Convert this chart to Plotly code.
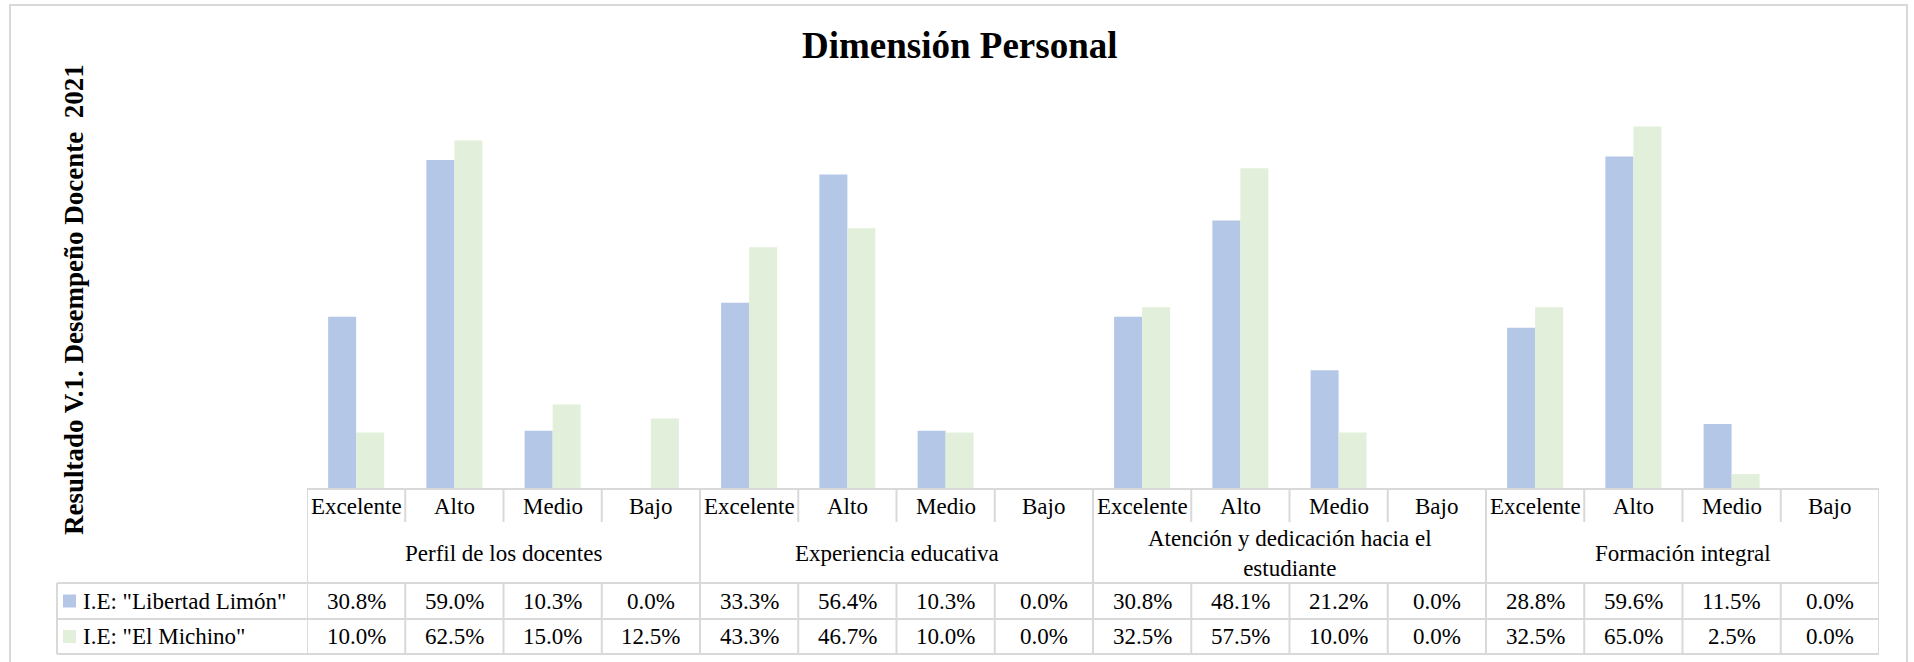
import plotly.graph_objects as go

# ---------------- data ----------------
categories = ["Excelente", "Alto", "Medio", "Bajo"]
groups = ["Perfil de los docentes", "Experiencia educativa",
          "Atención y dedicación hacia el<br>estudiante", "Formación integral"]
series_names = ['I.E: "Libertad Limón"', 'I.E: "El Michino"']
libertad = [30.8, 59.0, 10.3, 0.0, 33.3, 56.4, 10.3, 0.0,
            30.8, 48.1, 21.2, 0.0, 28.8, 59.6, 11.5, 0.0]
michino = [10.0, 62.5, 15.0, 12.5, 43.3, 46.7, 10.0, 0.0,
           32.5, 57.5, 10.0, 0.0, 32.5, 65.0, 2.5, 0.0]
title_text = "Dimensión Personal"
ytitle_text = "Resultado V.1. Desempeño Docente\u00a0\u00a02021"

# ---------------- layout helpers (pixels -> paper) ----------------
W, H = 1914, 662
def px(x):
    return x / W
def py(y):
    return 1 - y / H

colors = ["#B4C7E7", "#E2EFDA"]
grid = "#D9D9D9"
font_family = "Liberation Serif"
n_cols = len(groups) * len(categories)
xs = list(range(n_cols))

TABLE_L, TABLE_R = 307, 1879
LEGEND_L = 57
Y_TOP_CAT, Y_CAT_END, Y_R1, Y_R2, Y_BOT = 489, 522, 583, 619, 654

fig = go.Figure()
for name, vals, col in zip(series_names, [libertad, michino], colors):
    fig.add_trace(go.Bar(x=xs, y=vals, name=name, marker=dict(color=col, line=dict(width=0)),
                         hoverinfo="y+name"))

shapes = []
# outer frame
shapes.append(dict(type="rect", xref="paper", yref="paper", x0=px(10), x1=px(1907),
                   y0=py(700), y1=py(5), line=dict(color=grid, width=2), layer="below"))
# top of table (axis line)
shapes.append(dict(type="line", xref="paper", yref="paper", x0=px(TABLE_L), x1=px(TABLE_R),
                   y0=py(Y_TOP_CAT), y1=py(Y_TOP_CAT), line=dict(color=grid, width=2)))
# series rows horizontal lines
for yy in [Y_R1, Y_R2, Y_BOT]:
    shapes.append(dict(type="line", xref="paper", yref="paper", x0=px(LEGEND_L), x1=px(TABLE_R),
                       y0=py(yy), y1=py(yy), line=dict(color=grid, width=2)))
# legend column left line
shapes.append(dict(type="line", xref="paper", yref="paper", x0=px(LEGEND_L), x1=px(LEGEND_L),
                   y0=py(Y_R1), y1=py(Y_BOT), line=dict(color=grid, width=2)))
# vertical column lines
for i in range(n_cols + 1):
    xb = i - 0.5
    if i % len(categories) == 0:
        shapes.append(dict(type="line", xref="x", yref="paper", x0=xb, x1=xb,
                           y0=py(Y_TOP_CAT), y1=py(Y_BOT), line=dict(color=grid, width=2)))
    else:
        shapes.append(dict(type="line", xref="x", yref="paper", x0=xb, x1=xb,
                           y0=py(Y_TOP_CAT), y1=py(Y_CAT_END), line=dict(color=grid, width=2)))
        shapes.append(dict(type="line", xref="x", yref="paper", x0=xb, x1=xb,
                           y0=py(Y_R1), y1=py(Y_BOT), line=dict(color=grid, width=2)))
# legend keys
for r, col in enumerate(colors):
    yc = (Y_R1 + Y_R2) / 2 if r == 0 else (Y_R2 + Y_BOT) / 2
    shapes.append(dict(type="rect", xref="paper", yref="paper", x0=px(63), x1=px(76),
                       y0=py(yc + 6.5), y1=py(yc - 6.5), fillcolor=col, line=dict(width=0)))

annotations = []
tf = dict(family=font_family, size=23, color="#000000")
# category labels
for i in xs:
    annotations.append(dict(x=i, y=py(506), xref="x", yref="paper", text=categories[i % 4],
                            showarrow=False, font=tf, xanchor="center", yanchor="middle"))
# group labels
for g, gname in enumerate(groups):
    annotations.append(dict(x=g * 4 + 1.5, y=py(553), xref="x", yref="paper", text=gname,
                            showarrow=False, font=tf, xanchor="center", yanchor="middle"))
# values
for r, vals in enumerate([libertad, michino]):
    yc = (Y_R1 + Y_R2) / 2 if r == 0 else (Y_R2 + Y_BOT) / 2
    for i, v in zip(xs, vals):
        annotations.append(dict(x=i, y=py(yc), xref="x", yref="paper", text=f"{v:.1f}%",
                                showarrow=False, font=tf, xanchor="center", yanchor="middle"))
    annotations.append(dict(x=px(81), y=py(yc), xref="paper", yref="paper", text=series_names[r],
                            showarrow=False, font=tf, xanchor="left", yanchor="middle"))
# title
annotations.append(dict(x=px(960), y=py(45), xref="paper", yref="paper", text=f"<b>{title_text}</b>",
                        showarrow=False, font=dict(family=font_family, size=37, color="#000000"),
                        xanchor="center", yanchor="middle"))
# y title
annotations.append(dict(x=px(74), y=py(300), xref="paper", yref="paper", text=f"<b>{ytitle_text}</b>",
                        showarrow=False, textangle=-90,
                        font=dict(family=font_family, size=27, color="#000000"),
                        xanchor="center", yanchor="middle"))

fig.update_layout(
    width=W, height=H,
    margin=dict(l=0, r=0, t=0, b=0),
    paper_bgcolor="white", plot_bgcolor="white",
    font=dict(family=font_family),
    showlegend=False,
    barmode="group", bargap=0.43, bargroupgap=0,
    xaxis=dict(domain=[px(TABLE_L), px(TABLE_R)], range=[-0.5, n_cols - 0.5],
               visible=False, fixedrange=True),
    yaxis=dict(domain=[py(488), py(488 - 70 * 5.56)], range=[0, 70],
               visible=False, fixedrange=True),
    shapes=shapes, annotations=annotations,
)

fig.write_html("out.html", config={"displayModeBar": False},
               post_script="document.body.style.margin='0';document.body.style.overflow='hidden';")
